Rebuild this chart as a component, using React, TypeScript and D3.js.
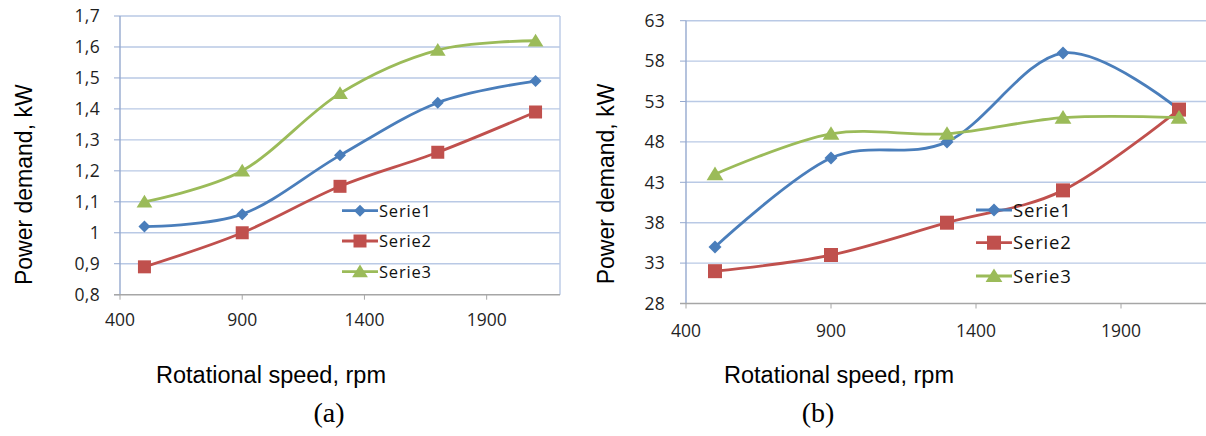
import React from "react";
import * as d3 from "d3";

// ---------- data ----------
const rpm = [500, 900, 1300, 1700, 2100];
const seriesNames = ["Serie1", "Serie2", "Serie3"];

const aSerie1 = [1.02, 1.06, 1.25, 1.42, 1.49];
const aSerie2 = [0.89, 1.0, 1.15, 1.26, 1.39];
const aSerie3 = [1.1, 1.2, 1.45, 1.59, 1.62];

const bSerie1 = [35, 46, 48, 59, 52];
const bSerie2 = [32, 34, 38, 42, 52];
const bSerie3 = [44, 49, 49, 51, 51];

const xTicks = [400, 900, 1400, 1900];
const aYTicks = [0.8, 0.9, 1.0, 1.1, 1.2, 1.3, 1.4, 1.5, 1.6, 1.7];
const bYTicks = [28, 33, 38, 43, 48, 53, 58, 63];

const xTitle = "Rotational speed, rpm";
const yTitle = "Power demand, kW";

// ---------- styles ----------
const colors = ["#4A7EBB", "#C0504D", "#9BBB59"];
const markers = ["diamond", "square", "triangle"];
const gridColor = "#B9C9E5";
const yAxisColor = "#95A9CF";
const xAxisColor = "#A6A6A6";
const tickFont = "'Open Sans', 'DejaVu Sans', sans-serif";
const titleFont = "'Liberation Sans', Arial, sans-serif";
const serifFont = "'Liberation Serif', 'Times New Roman', serif";

function markerPath(kind: string, s: number) {
  const p = d3.path();
  const h = s * 0.5;
  if (kind === "diamond") {
    p.moveTo(0, -h);
    p.lineTo(h, 0);
    p.lineTo(0, h);
    p.lineTo(-h, 0);
    p.closePath();
  } else if (kind === "square") {
    p.rect(-h, -h, s, s);
  } else {
    p.moveTo(0, -h * 0.95);
    p.lineTo(h * 1.05, h * 0.75);
    p.lineTo(-h * 1.05, h * 0.75);
    p.closePath();
  }
  return p.toString();
}

type ChartProps = {
  x0: number;
  x1: number;
  yTop: number;
  yBottom: number;
  yDomain: [number, number];
  yTicks: number[];
  fmt: (v: number) => string;
  data: number[][];
  tickLabelRight: number;
  xLabelBaseline: number;
  yTitleX: number;
  yTitleY: number;
  xTitleX: number;
  legendX: number;
  legendYs: number[];
  legendFont: number;
  markerSizes: number[];
  panelLabel: string;
  panelLabelX: number;
  rightBorder: boolean;
};

function Chart(p: ChartProps) {
  const x = d3.scaleLinear().domain([400, 2200]).range([p.x0, p.x1]);
  const y = d3.scaleLinear().domain(p.yDomain).range([p.yBottom, p.yTop]);
  const line = d3
    .line<[number, number]>()
    .x((d) => x(d[0]))
    .y((d) => y(d[1]))
    .curve(d3.curveCardinal.tension(0));

  return (
    <g>
      {p.yTicks.slice(1).map((t) => (
        <line key={"g" + t} x1={p.x0} x2={p.x1} y1={y(t)} y2={y(t)} stroke={gridColor} strokeWidth={1.4} />
      ))}
      {p.rightBorder && (
        <line x1={p.x1} x2={p.x1} y1={p.yTop} y2={p.yBottom} stroke={gridColor} strokeWidth={1.4} />
      )}
      <line x1={p.x0} x2={p.x0} y1={p.yTop} y2={p.yBottom} stroke={yAxisColor} strokeWidth={1.4} />
      {p.yTicks.map((t) => (
        <g key={"yt" + t}>
          <line x1={p.x0 - 6} x2={p.x0} y1={y(t)} y2={y(t)} stroke={yAxisColor} strokeWidth={1} />
          <text
            x={p.tickLabelRight}
            y={y(t)}
            dy="0.36em"
            textAnchor="end"
            fontFamily={tickFont}
            fontSize={17.5}
            letterSpacing={0.3}
            fill="#1f1f1f"
          >
            {p.fmt(t)}
          </text>
        </g>
      ))}
      <line x1={p.x0 - 6} x2={p.x1} y1={p.yBottom} y2={p.yBottom} stroke={xAxisColor} strokeWidth={1.4} />
      {xTicks.map((t) => (
        <g key={"xt" + t}>
          <line x1={x(t)} x2={x(t)} y1={p.yBottom} y2={p.yBottom + 5} stroke={xAxisColor} strokeWidth={1} />
          <text
            x={x(t)}
            y={p.xLabelBaseline}
            textAnchor="middle"
            fontFamily={tickFont}
            fontSize={17.5}
            fill="#1f1f1f"
          >
            {t}
          </text>
        </g>
      ))}
      {p.data.map((vals, i) => {
        const pts = rpm.map((r, j) => [r, vals[j]] as [number, number]);
        return (
          <g key={"s" + i}>
            <path d={line(pts) || ""} fill="none" stroke={colors[i]} strokeWidth={2.8} />
            {pts.map((d, j) => (
              <path
                key={j}
                d={markerPath(markers[i], p.markerSizes[i])}
                transform={`translate(${x(d[0])},${y(d[1])})`}
                fill={colors[i]}
              />
            ))}
          </g>
        );
      })}
      {seriesNames.map((n, i) => (
        <g key={"l" + i}>
          <line
            x1={p.legendX}
            x2={p.legendX + 36}
            y1={p.legendYs[i]}
            y2={p.legendYs[i]}
            stroke={colors[i]}
            strokeWidth={2.8}
          />
          <path
            d={markerPath(markers[i], p.markerSizes[i])}
            transform={`translate(${p.legendX + 18},${p.legendYs[i]})`}
            fill={colors[i]}
          />
          <text
            x={p.legendX + 37}
            y={p.legendYs[i]}
            dy="0.36em"
            fontFamily={tickFont}
            fontSize={p.legendFont}
            letterSpacing={0.8}
            fill="#111"
          >
            {n}
          </text>
        </g>
      ))}
      <text
        transform={`translate(${p.yTitleX},${p.yTitleY}) rotate(-90)`}
        textAnchor="middle"
        fontFamily={titleFont}
        fontSize={23}
        fill="#000"
      >
        {yTitle}
      </text>
      <text x={p.xTitleX} y={382.5} textAnchor="middle" fontFamily={titleFont} fontSize={23.5} fill="#000">
        {xTitle}
      </text>
      <text x={p.panelLabelX} y={422} textAnchor="middle" fontFamily={serifFont} fontSize={28} fill="#000">
        {p.panelLabel}
      </text>
    </g>
  );
}

const fmtComma = (v: number) => {
  const s = d3.format(".1f")(v);
  return s.endsWith(".0") ? s.slice(0, -2) : s.replace(".", ",");
};

export default function App() {
  return (
    <svg
      width={1206}
      height={436}
      viewBox="0 0 1206 436"
      style={{ position: "absolute", left: 0, top: 0, background: "#fff" }}
    >
      <rect width={1206} height={436} fill="#fff" />
      <Chart
        x0={120}
        x1={560}
        yTop={16}
        yBottom={294.7}
        yDomain={[0.8, 1.7]}
        yTicks={aYTicks}
        fmt={fmtComma}
        data={[aSerie1, aSerie2, aSerie3]}
        tickLabelRight={100}
        xLabelBaseline={325.5}
        yTitleX={32}
        yTitleY={184.7}
        xTitleX={271}
        legendX={342}
        legendYs={[210.7, 241, 271.7]}
        legendFont={16.5}
        markerSizes={[12, 13, 15]}
        panelLabel="(a)"
        panelLabelX={329}
        rightBorder={true}
      />
      <Chart
        x0={686}
        x1={1208}
        yTop={20.7}
        yBottom={303.5}
        yDomain={[28, 63]}
        yTicks={bYTicks}
        fmt={(v) => String(v)}
        data={[bSerie1, bSerie2, bSerie3]}
        tickLabelRight={665}
        xLabelBaseline={337}
        yTitleX={613.5}
        yTitleY={184}
        xTitleX={839}
        legendX={976}
        legendYs={[210, 242.7, 276]}
        legendFont={18.5}
        markerSizes={[13, 14, 16]}
        panelLabel="(b)"
        panelLabelX={818}
        rightBorder={false}
      />
    </svg>
  );
}
